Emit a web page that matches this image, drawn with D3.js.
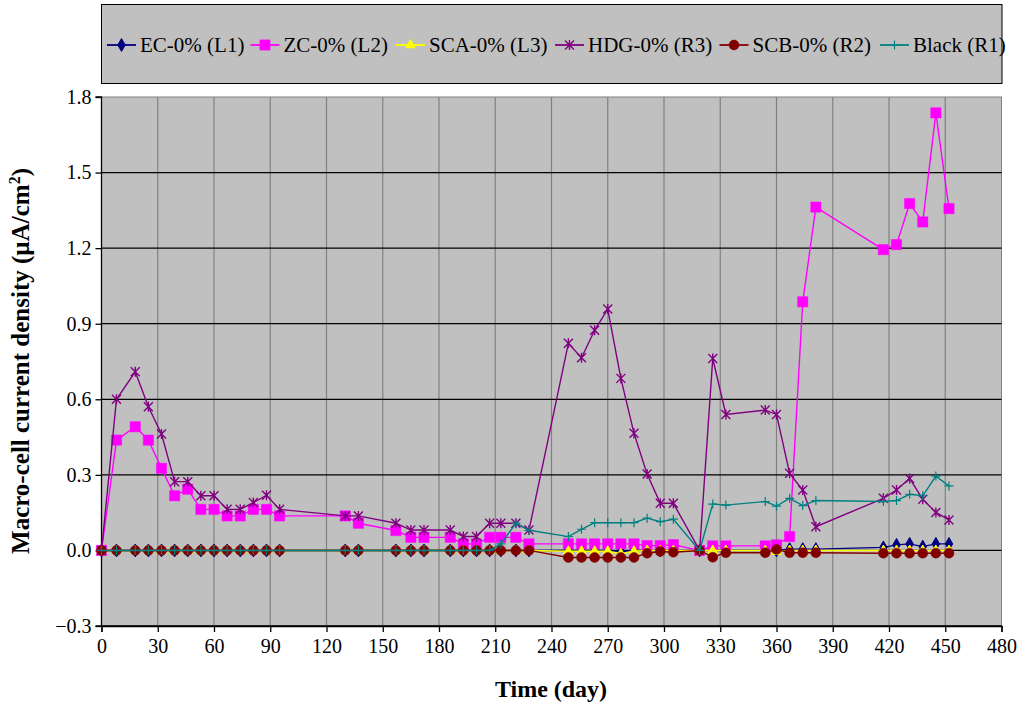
<!DOCTYPE html>
<html><head><meta charset="utf-8">
<script src="https://cdn.jsdelivr.net/npm/d3@7"></script>
<style>body{margin:0;background:#fff}svg{display:block}</style>
</head><body><svg id="c" width="1023" height="704"></svg>
<script>
const days = [0,8,18,25,32,39,46,53,60,67,74,81,88,95,
  130,137,157,165,172,186,193,200,207,213,221,228,
  249,256,263,270,277,284,291,298,305,
  319,
  326,333,354,360,367,374,381,
  417,424,431,438,445,452];
const ecValues = [0,0,0,0,0,0,0,0,0,0,0,0,0,0,
  0,0,0,0,0,0,0,0,0,0,0,0,
  0,0,0,0,-0.004,0,0,0,0,
  0,
  0,0,0,0,0.005,0.005,0.005,
  0.012,0.022,0.026,0.015,0.026,0.026];
const zcValues = [0,0.438,0.491,0.438,0.326,0.217,0.243,0.163,0.163,0.137,0.137,0.163,0.163,0.137,
  0.137,0.108,0.079,0.052,0.052,0.052,0.026,0.026,0.052,0.052,0.052,0.026,
  0.026,0.026,0.026,0.026,0.026,0.026,0.019,0.019,0.023,
  0,
  0.018,0.018,0.018,0.022,0.055,0.987,1.363,
  1.194,1.214,1.377,1.304,1.737,1.357];
const scaValues = [0,0,0,0,0,0,0,0,0,0,0,0,0,0,
  0,0,0,0,0,0,0,0,0,0,0,0,
  -0.003,-0.003,-0.003,-0.003,-0.013,-0.003,0,0,0,
  0,
  0,0,0,-0.005,0,0,0,
  0,0,0,0,0,0];
const hdgValues = [0,0.60,0.709,0.57,0.462,0.273,0.273,0.217,0.217,0.163,0.163,0.19,0.219,0.163,
  0.137,0.137,0.108,0.081,0.081,0.081,0.055,0.055,0.108,0.108,0.108,0.081,
  0.822,0.765,0.874,0.958,0.683,0.465,0.303,0.187,0.187,
  0,
  0.762,0.54,0.557,0.54,0.306,0.24,0.094,
  0.207,0.24,0.286,0.203,0.151,0.121];
const scbValues = [0,0,0,0,0,0,0,0,0,0,0,0,0,0,
  0,0,0,0,0,0,0,0,0,0,0,0,
  -0.028,-0.028,-0.028,-0.028,-0.028,-0.028,-0.011,-0.004,-0.007,
  0,
  -0.027,-0.009,-0.009,0.004,-0.009,-0.009,-0.009,
  -0.011,-0.011,-0.011,-0.011,-0.011,-0.011];
const blackValues = [0,0,0,0,0,0,0,0,0,0,0,0,0,0,
  0,0,0,0,0,0,0,0,0,0.026,0.108,0.08,
  0.055,0.084,0.11,0.11,0.11,0.11,0.128,0.114,0.124,
  0,
  0.184,0.18,0.194,0.176,0.207,0.178,0.198,
  0.194,0.198,0.223,0.217,0.295,0.256];
const seriesNames = ["EC-0% (L1)","ZC-0% (L2)","SCA-0% (L3)","HDG-0% (R3)","SCB-0% (R2)","Black (R1)"];
const seriesColors = ["#000080","#FF00FF","#FFFF00","#800080","#800000","#008080"];
const seriesMarkers = ["diamond","square","triangle","star","circle","plus"];
const xTicks = d3.range(0, 481, 30);
const yTicks = [-0.3,0,0.3,0.6,0.9,1.2,1.5,1.8];
const xLabel = "Time (day)";

const seriesValues = [ecValues,zcValues,scaValues,hdgValues,scbValues,blackValues];

const svg = d3.select("#c");
const L = 101.5, R = 1001.5, T = 97, B = 626;
const x = d3.scaleLinear().domain([0,480]).range([L,R]);
const y = d3.scaleLinear().domain([-0.3,1.8]).range([B,T]);
const FONT = "'Liberation Serif','Times New Roman',serif";

// legend box
svg.append("rect").attr("x",101.5).attr("y",4.5).attr("width",900.5).attr("height",79)
  .attr("fill","#C0C0C0").attr("stroke","#000").attr("stroke-width",1);

// plot area
svg.append("rect").attr("x",L).attr("y",T).attr("width",R-L).attr("height",B-T)
  .attr("fill","#C0C0C0").attr("stroke","#808080").attr("stroke-width",1);

// vertical gridlines
svg.append("g").selectAll("line").data(xTicks.filter(d=>d>0&&d<480)).join("line")
  .attr("x1",d=>x(d)).attr("x2",d=>x(d)).attr("y1",T).attr("y2",B)
  .attr("stroke","#808080").attr("stroke-width",1.2);
// horizontal gridlines
svg.append("g").selectAll("line").data(yTicks.filter(d=>d<1.8)).join("line")
  .attr("x1",L).attr("x2",R).attr("y1",d=>y(d)).attr("y2",d=>y(d))
  .attr("stroke","#000").attr("stroke-width",1.3);

// axes
const yAxis = svg.append("g").attr("transform",`translate(${L},0)`)
  .call(d3.axisLeft(y).tickValues(yTicks).tickFormat(d3.format(".1f")).tickSize(6).tickPadding(4));
const xAxis = svg.append("g").attr("transform",`translate(0,${B})`)
  .call(d3.axisBottom(x).tickValues(xTicks).tickSize(6).tickPadding(7));
[yAxis,xAxis].forEach(a=>{
  a.select(".domain").attr("stroke","#000").attr("stroke-width",1.3);
  a.selectAll(".tick line").attr("stroke","#000").attr("stroke-width",1.3);
  a.selectAll("text").attr("font-family",FONT).attr("font-size",20).attr("fill","#000");
});
yAxis.select(".domain").attr("d",`M-6,${T}H0V${B}H-6`);

function marker(sel, type, color){
  if(type==="diamond"){
    sel.append("path").attr("d",d3.symbol(d3.symbolDiamond,48)()).attr("fill",color).attr("stroke",color);
  } else if(type==="square"){
    sel.append("path").attr("d",d3.symbol(d3.symbolSquare,105)()).attr("fill",color).attr("stroke",color).attr("stroke-width",0.5);
  } else if(type==="triangle"){
    sel.append("path").attr("d",d3.symbol(d3.symbolTriangle,38)()).attr("fill",color).attr("stroke",color);
  } else if(type==="circle"){
    sel.append("circle").attr("r",5).attr("fill",color).attr("stroke",color).attr("stroke-width",0.5);
  } else if(type==="star"){
    sel.append("path").attr("d","M-4.5,-4.5L4.5,4.5M-4.5,4.5L4.5,-4.5M0,-5L0,5")
      .attr("stroke",color).attr("stroke-width",1.4).attr("fill","none");
  } else if(type==="plus"){
    sel.append("path").attr("d","M-4.5,0L4.5,0M0,-4.5L0,4.5")
      .attr("stroke",color).attr("stroke-width",1.2).attr("fill","none");
  }
}

const line = d3.line().x(d=>x(d[0])).y(d=>y(d[1]));
seriesValues.forEach((vals,i)=>{
  const pts = days.map((d,j)=>[d,vals[j]]);
  const g = svg.append("g");
  g.append("path").datum(pts).attr("d",line).attr("fill","none")
    .attr("stroke",seriesColors[i]).attr("stroke-width",1.4);
  g.selectAll("g.m").data(pts).join("g").attr("class","m")
    .attr("transform",d=>`translate(${x(d[0])},${y(d[1])})`)
    .each(function(){ marker(d3.select(this), seriesMarkers[i], seriesColors[i]); });
});

// legend entries
const legX = [107,250.5,396,555,719.5,880];
seriesNames.forEach((n,i)=>{
  const g = svg.append("g").attr("transform",`translate(${legX[i]},45)`);
  g.append("line").attr("x1",0).attr("x2",29).attr("stroke",seriesColors[i]).attr("stroke-width",1.8);
  const m = g.append("g").attr("transform","translate(14.5,0)");
  marker(m, seriesMarkers[i], seriesColors[i]);
  g.append("text").attr("x",33).attr("y",7).attr("font-family",FONT).attr("font-size",21)
    .attr("fill","#000").text(n);
});

// axis titles
svg.append("text").attr("x",551).attr("y",697).attr("text-anchor","middle")
  .attr("font-family",FONT).attr("font-size",24).attr("font-weight","bold").text(xLabel);
const yt = svg.append("text").attr("transform","translate(29,361) rotate(-90)").attr("text-anchor","middle")
  .attr("font-family",FONT).attr("font-size",25).attr("font-weight","bold");
yt.append("tspan").text("Macro-cell current density (µA/cm");
yt.append("tspan").attr("dy",-9).attr("font-size",16).text("2");
yt.append("tspan").attr("dy",9).text(")");
</script></body></html>
